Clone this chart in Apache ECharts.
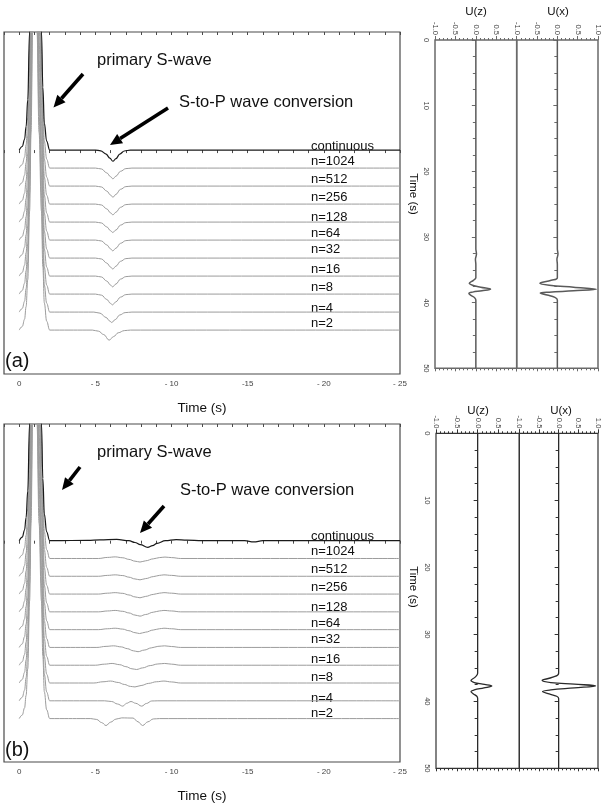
<!DOCTYPE html>
<html>
<head>
<meta charset="utf-8">
<script src="https://cdn.jsdelivr.net/npm/echarts@6/dist/echarts.min.js"></script>
<style>
html, body { margin: 0; padding: 0; background: #fff; }
#chart { width: 602px; height: 804px; }
</style>
</head>
<body>
<div id="chart"></div>
<script>
// trace labels, top to bottom
const traceNames = ['continuous', 'n=1024', 'n=512', 'n=256', 'n=128', 'n=64', 'n=32', 'n=16', 'n=8', 'n=4', 'n=2'];
const timeTickLabels = ['0', '- 5', '- 10', '-15', '- 20', '- 25'];

// primary S pulse shared by every trace (time s, amplitude in trace spacings)
const pulseTime = [0, 0.2, 0.35, 0.45, 0.56, 0.68, 0.78, 0.87, 0.95, 1.03, 1.1, 1.17, 1.3, 1.46, 1.55, 1.65, 1.8, 2.0];
const pulseAmp  = [0, 0.2, 0.6, 1.3, 2.8, 6.6, 11, 16.5, 22, 25, 22, 16.5, 11, 6.6, 3.5, 1.5, 0.5, 0];

// (a) coda of each trace after the pulse: [time, amplitude]
const codaA = [
  [[2.3,0],[5.0,0],[5.35,-0.04],[5.7,-0.22],[5.95,-0.45],[6.15,-0.62],[6.35,-0.48],[6.6,-0.22],[6.9,-0.05],[7.3,0],[25,0]],
  [[2.3,0],[5.0,0],[5.4,-0.05],[5.75,-0.27],[6.0,-0.48],[6.15,-0.6],[6.35,-0.45],[6.65,-0.18],[7.0,-0.03],[7.4,0],[25,0]],
  [[2.3,0],[5.0,0],[5.4,-0.05],[5.75,-0.28],[6.0,-0.5],[6.15,-0.62],[6.35,-0.46],[6.65,-0.18],[7.0,-0.03],[7.4,0],[25,0]],
  [[2.3,0],[5.0,0],[5.4,-0.05],[5.75,-0.27],[6.0,-0.49],[6.15,-0.6],[6.35,-0.45],[6.65,-0.18],[7.0,-0.03],[7.4,0],[25,0]],
  [[2.3,0],[5.0,0],[5.4,-0.05],[5.75,-0.27],[6.0,-0.48],[6.14,-0.58],[6.35,-0.44],[6.65,-0.17],[7.0,-0.03],[7.4,0],[25,0]],
  [[2.3,0],[5.0,0],[5.4,-0.05],[5.75,-0.27],[6.0,-0.49],[6.14,-0.6],[6.35,-0.45],[6.65,-0.18],[7.0,-0.03],[7.4,0],[25,0]],
  [[2.3,0],[5.0,0],[5.4,-0.05],[5.75,-0.28],[6.0,-0.5],[6.14,-0.61],[6.35,-0.45],[6.65,-0.18],[7.0,-0.03],[7.4,0],[25,0]],
  [[2.3,0],[5.0,0],[5.4,-0.05],[5.75,-0.28],[6.0,-0.5],[6.13,-0.6],[6.35,-0.44],[6.65,-0.17],[7.0,-0.03],[7.4,0],[25,0]],
  [[2.3,0],[5.0,0],[5.4,-0.06],[5.75,-0.3],[6.0,-0.52],[6.12,-0.6],[6.33,-0.44],[6.65,-0.17],[7.0,-0.03],[7.4,0],[25,0]],
  [[2.3,0],[4.9,0],[5.3,-0.06],[5.7,-0.3],[5.95,-0.5],[6.07,-0.58],[6.3,-0.42],[6.6,-0.16],[6.95,-0.03],[7.4,0],[25,0]],
  [[2.3,0],[4.8,0],[5.2,-0.06],[5.55,-0.25],[5.9,-0.56],[6.2,-0.36],[6.5,-0.15],[6.9,-0.03],[7.3,0],[25,0]]
];

// (b) coda of each trace after the pulse: [time, amplitude]
const codaB = [
  [[2.3,0],[4.5,0.02],[5.3,0.05],[6.4,0.07],[7.2,0],[7.6,-0.1],[7.95,-0.22],[8.44,-0.37],[8.75,-0.28],[9.05,-0.15],[9.6,0],[10.3,0.06],[11.0,0.03],[12,0],[14.8,0],[15.4,-0.07],[16,0],[25,0]],
  [[2.3,0],[5.2,0],[5.8,0.06],[6.3,0.09],[6.8,0.04],[7.2,-0.05],[7.6,-0.15],[7.93,-0.2],[8.3,-0.13],[8.8,-0.02],[9.2,0.05],[9.57,0.08],[10.0,0.05],[10.6,0],[25,0]],
  [[2.3,0],[5.2,0],[5.8,0.05],[6.3,0.08],[6.8,0.04],[7.2,-0.05],[7.6,-0.15],[7.93,-0.2],[8.3,-0.13],[8.8,-0.02],[9.2,0.05],[9.5,0.08],[10.0,0.05],[10.6,0],[25,0]],
  [[2.3,0],[5.2,0],[5.8,0.05],[6.3,0.08],[6.8,0.04],[7.2,-0.05],[7.6,-0.16],[7.93,-0.21],[8.3,-0.13],[8.8,-0.02],[9.2,0.05],[9.5,0.08],[10.0,0.05],[10.6,0],[25,0]],
  [[2.3,0],[5.2,0],[5.8,0.05],[6.3,0.08],[6.8,0.03],[7.2,-0.06],[7.6,-0.18],[7.93,-0.24],[8.3,-0.15],[8.8,-0.02],[9.2,0.05],[9.5,0.08],[10.0,0.05],[10.6,0],[25,0]],
  [[2.3,0],[5.2,0],[5.8,0.05],[6.3,0.08],[6.8,0.03],[7.2,-0.06],[7.6,-0.17],[7.9,-0.22],[8.3,-0.14],[8.8,-0.02],[9.2,0.05],[9.5,0.08],[10.0,0.05],[10.6,0],[25,0]],
  [[2.3,0],[5.1,0],[5.7,0.06],[6.2,0.09],[6.7,0.03],[7.1,-0.07],[7.5,-0.19],[7.8,-0.24],[8.2,-0.15],[8.7,-0.02],[9.1,0.06],[9.55,0.09],[10.0,0.05],[10.6,0],[25,0]],
  [[2.3,0],[5.0,0],[5.6,0.06],[6.1,0.1],[6.6,0.03],[7.0,-0.08],[7.4,-0.2],[7.7,-0.24],[8.1,-0.15],[8.6,-0.02],[9.1,0.07],[9.55,0.1],[10.0,0.06],[10.6,0],[25,0]],
  [[2.3,0],[4.9,0],[5.5,0.07],[6.0,0.11],[6.5,0.03],[6.9,-0.08],[7.3,-0.19],[7.6,-0.22],[8.0,-0.14],[8.5,-0.02],[9.0,0.07],[9.5,0.11],[10.0,0.06],[10.6,0],[25,0]],
  [[2.3,0],[5.6,0],[6.07,-0.04],[6.45,-0.18],[6.8,-0.3],[7.05,-0.14],[7.34,-0.04],[7.65,-0.14],[8.04,-0.3],[8.35,-0.15],[8.7,-0.01],[9.1,0],[25,0]],
  [[2.3,0],[4.7,0],[5.09,-0.05],[5.4,-0.22],[5.7,-0.39],[6.0,-0.2],[6.35,-0.03],[6.73,0.04],[7.47,0.03],[7.8,-0.18],[8.1,-0.39],[8.45,-0.18],[8.8,-0.02],[9.2,0],[25,0]]
];

// right-hand seismograms: [amplitude, time s]
const uzTop = [[0,0],[0,31.8],[0.015,32.6],[-0.01,33.4],[0,34.2],[0,36.2],[-0.06,36.6],[-0.16,37.05],[-0.08,37.35],[0.12,37.65],[0.36,37.95],[0.15,38.2],[-0.08,38.4],[-0.17,38.6],[-0.12,38.9],[-0.03,39.25],[0,39.6],[0,50]];
const uxTop = [[0,0],[0,31.8],[0.015,32.6],[-0.01,33.4],[0,34.2],[0,36.2],[-0.15,36.6],[-0.43,37.05],[-0.2,37.35],[0.4,37.65],[0.96,37.95],[0.4,38.2],[-0.2,38.4],[-0.42,38.55],[-0.25,38.85],[-0.06,39.2],[0,39.6],[0,50]];
const uzBottom = [[0,0],[0,35.8],[-0.06,36.4],[-0.16,36.9],[-0.08,37.2],[0.12,37.45],[0.34,37.7],[0.15,38.0],[-0.08,38.3],[-0.16,38.55],[-0.1,38.9],[-0.02,39.25],[0,39.6],[0,50]];
const uxBottom = [[0,0],[0,35.8],[-0.15,36.4],[-0.42,36.9],[-0.2,37.2],[0.4,37.45],[0.94,37.7],[0.4,38.0],[-0.2,38.3],[-0.41,38.55],[-0.24,38.9],[-0.05,39.25],[0,39.6],[0,50]];

const FONT = '"Liberation Sans", Arial, Helvetica, sans-serif';
const GRAY = '#9c9c9c';
const AXIS = '#4a4a4a';

const chart = echarts.init(document.getElementById('chart'));

function traceData(coda, k) {
  const head = pulseTime.map((t, i) => [t, pulseAmp[i] - k]);
  return head.concat(coda[k].map(p => [p[0], p[1] - k]));
}

function arrow(x1, y1, x2, y2) {
  const dx = x2 - x1, dy = y2 - y1, len = Math.sqrt(dx * dx + dy * dy);
  const ux = dx / len, uy = dy / len;
  const bx = x2 - ux * 12, by = y2 - uy * 12;
  return [
    { type: 'line', shape: { x1: x1, y1: y1, x2: bx, y2: by }, style: { stroke: '#000', lineWidth: 3.6 } },
    { type: 'polygon', shape: { points: [[x2, y2], [bx + uy * 5.5, by - ux * 5.5], [bx - uy * 5.5, by + ux * 5.5]] }, style: { fill: '#000' } }
  ];
}

function text(str, x, y, size, align, rotation) {
  return {
    type: 'text', x: x, y: y, rotation: rotation || 0,
    style: { text: str, font: size + 'px ' + FONT, fill: '#111', textAlign: align || 'left', textVerticalAlign: 'middle' }
  };
}

const labelY = [146.7, 161, 179, 197, 217.3, 233.7, 249, 269, 287, 308, 323.3];

const graphics = [];
[0, 390].forEach(function (dy) {
  traceNames.forEach(function (n, k) {
    graphics.push(text(n, 311, labelY[k] + dy, 13));
  });
});
graphics.push(text('primary S-wave', 97, 60, 16.5));
graphics.push(text('S-to-P wave conversion', 179, 102, 16.5));
graphics.push(text('primary S-wave', 97, 452, 16.5));
graphics.push(text('S-to-P wave conversion', 180, 490, 16.5));
graphics.push(text('(a)', 5, 361, 20));
graphics.push(text('(b)', 5, 750, 20));
graphics.push.apply(graphics, arrow(83, 74, 53.5, 107.5));
graphics.push.apply(graphics, arrow(168, 108, 110, 145));
graphics.push.apply(graphics, arrow(80, 467, 62, 490));
graphics.push.apply(graphics, arrow(164, 506, 140, 533));
graphics.push(text('U(z)', 476, 12, 11.5, 'center'));
graphics.push(text('U(x)', 558, 12, 11.5, 'center'));
graphics.push(text('U(z)', 478, 411, 11.5, 'center'));
graphics.push(text('U(x)', 561, 411, 11.5, 'center'));
graphics.push(text('Time (s)', 413, 194, 11.5, 'center', -Math.PI / 2));
graphics.push(text('Time (s)', 413, 587, 11.5, 'center', -Math.PI / 2));

// top-right pair is drawn in a lighter grey than the bottom-right pair
const grids = [
  { left: 4, top: 32, width: 396, height: 342, borderColor: AXIS },
  { left: 4, top: 424, width: 396, height: 342, borderColor: AXIS },
  { left: 435, top: 40, width: 81.7, height: 328.3, borderColor: '#6a6a6a', borderWidth: 1.5 },
  { left: 516.7, top: 40, width: 82, height: 328.3, borderColor: '#6a6a6a', borderWidth: 1.5 },
  { left: 436, top: 433.3, width: 83.3, height: 335, borderColor: '#333' },
  { left: 519.3, top: 433.3, width: 83.3, height: 335, borderColor: '#333' }
].map(g => Object.assign({ show: true, borderWidth: 1.2, backgroundColor: 'transparent' }, g));

const xAxes = [];
const yAxes = [];

// left panels: time axis
[0, 1].forEach(function (gi) {
  xAxes.push({
    type: 'value', gridIndex: gi, position: 'bottom', min: -1, max: 25, interval: 1,
    splitLine: { show: false },
    axisLine: { show: false },
    axisTick: { show: true, length: 3, lineStyle: { color: AXIS } },
    axisLabel: {
      fontSize: 8, color: '#444', fontFamily: FONT, margin: 6,
      formatter: v => (v >= 0 && v % 5 === 0) ? timeTickLabels[v / 5] : ''
    },
    name: 'Time (s)', nameLocation: 'middle', nameGap: 27,
    nameTextStyle: { fontSize: 13.5, color: '#111', fontFamily: FONT }
  });
  xAxes.push({
    type: 'value', gridIndex: gi, position: 'top', min: -1, max: 25, interval: 1,
    splitLine: { show: false }, axisLine: { show: false },
    axisTick: { show: true, inside: true, length: 3, lineStyle: { color: AXIS } },
    axisLabel: { show: false }
  });
  yAxes.push({ type: 'value', gridIndex: gi, min: -12.44, max: 6.56, show: false });
});

// right panels: amplitude (top) and time (left)
[2, 3, 4, 5].forEach(function (gi) {
  const first = gi % 2 === 0;
  const tickColor = gi < 4 ? '#6a6a6a' : '#333';
  xAxes.push({
    type: 'value', gridIndex: gi, position: 'top', min: -1, max: 1, interval: 0.5,
    splitLine: { show: false }, axisLine: { show: false },
    axisTick: { show: true, length: 4, lineStyle: { color: tickColor } },
    minorTick: { show: true, splitNumber: 5, length: 2, lineStyle: { color: tickColor } },
    axisLabel: {
      fontSize: 7.5, color: '#444', fontFamily: FONT, rotate: -90, margin: 5,
      formatter: v => (first && v === 1) ? '' : v.toFixed(1)
    }
  });
  xAxes.push({
    type: 'value', gridIndex: gi, position: 'bottom', min: -1, max: 1, interval: 0.5,
    splitLine: { show: false }, axisLine: { show: false },
    axisTick: { show: true, length: 3, lineStyle: { color: tickColor } },
    minorTick: { show: true, splitNumber: 5, length: 2, lineStyle: { color: tickColor } },
    axisLabel: { show: false }
  });
  yAxes.push({
    type: 'value', gridIndex: gi, position: 'left', inverse: true, min: 0, max: 50, interval: 10,
    splitLine: { show: false }, axisLine: { show: false },
    axisTick: { show: true, length: 4, lineStyle: { color: tickColor } },
    minorTick: { show: true, splitNumber: 4, length: 3, lineStyle: { color: tickColor } },
    axisLabel: { show: first, fontSize: 7.5, color: '#444', fontFamily: FONT, rotate: -90, margin: 5 }
  });
});

const series = [];
[codaA, codaB].forEach(function (coda, p) {
  traceNames.forEach(function (n, k) {
    series.push({
      name: n + (p ? ' b' : ' a'), type: 'line', xAxisIndex: p * 2, yAxisIndex: p,
      data: traceData(coda, k), symbol: 'none', smooth: 0.4, smoothMonotone: 'x',
      lineStyle: { color: k === 0 ? '#1a1a1a' : GRAY, width: k === 0 ? 1.2 : 1 },
      z: k === 0 ? 5 : 3, silent: true
    });
  });
});
[uzTop, uxTop, uzBottom, uxBottom].forEach(function (d, i) {
  series.push({
    type: 'line', xAxisIndex: 4 + i * 2, yAxisIndex: 2 + i,
    data: d, symbol: 'none', smooth: 0.4,
    lineStyle: { color: i < 2 ? '#5a5a5a' : '#2a2a2a', width: i < 2 ? 1.5 : 1.3 }, silent: true
  });
});

chart.setOption({
  animation: false,
  backgroundColor: '#fff',
  grid: grids,
  xAxis: xAxes,
  yAxis: yAxes,
  series: series,
  graphic: graphics
});
</script>
</body>
</html>
